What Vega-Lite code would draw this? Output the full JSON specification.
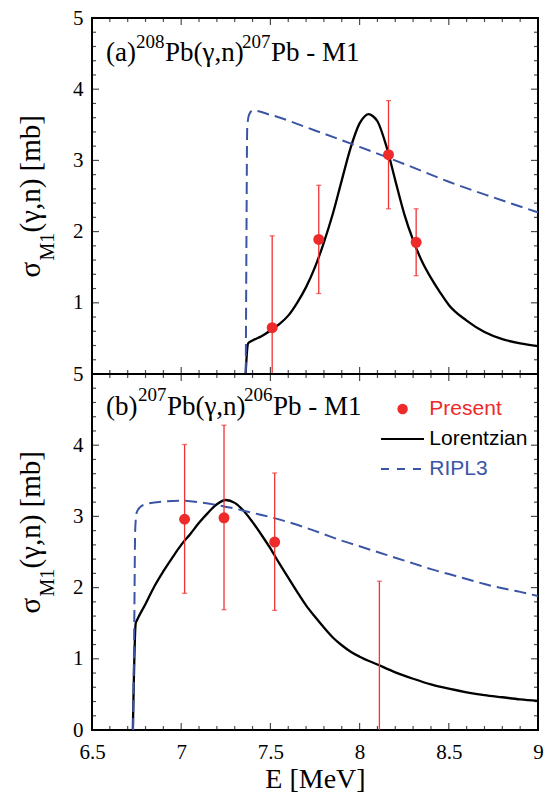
{
  "$schema": "https://vega.github.io/schema/vega-lite/v6.json",
  "background": "white",
  "padding": {"left": 16, "top": 6, "right": 0, "bottom": 0},
  "config": {"view": {"stroke": "black", "strokeWidth": 2}, "axis": {"grid": false}},
  "datasets": {
    "lorA": [
      {"E": 7.361, "sigma": 0, "series": "Lorentzian"}, {"E": 7.375, "sigma": 0.43, "series": "Lorentzian"},
      {"E": 7.40, "sigma": 0.47, "series": "Lorentzian"}, {"E": 7.45, "sigma": 0.53, "series": "Lorentzian"},
      {"E": 7.50, "sigma": 0.61, "series": "Lorentzian"}, {"E": 7.55, "sigma": 0.70, "series": "Lorentzian"},
      {"E": 7.60, "sigma": 0.82, "series": "Lorentzian"}, {"E": 7.65, "sigma": 1.00, "series": "Lorentzian"},
      {"E": 7.70, "sigma": 1.22, "series": "Lorentzian"}, {"E": 7.75, "sigma": 1.50, "series": "Lorentzian"},
      {"E": 7.80, "sigma": 1.85, "series": "Lorentzian"}, {"E": 7.85, "sigma": 2.25, "series": "Lorentzian"},
      {"E": 7.90, "sigma": 2.72, "series": "Lorentzian"}, {"E": 7.95, "sigma": 3.18, "series": "Lorentzian"},
      {"E": 8.00, "sigma": 3.52, "series": "Lorentzian"}, {"E": 8.025, "sigma": 3.61, "series": "Lorentzian"},
      {"E": 8.05, "sigma": 3.65, "series": "Lorentzian"}, {"E": 8.075, "sigma": 3.62, "series": "Lorentzian"},
      {"E": 8.10, "sigma": 3.55, "series": "Lorentzian"}, {"E": 8.15, "sigma": 3.20, "series": "Lorentzian"},
      {"E": 8.20, "sigma": 2.72, "series": "Lorentzian"}, {"E": 8.25, "sigma": 2.25, "series": "Lorentzian"},
      {"E": 8.30, "sigma": 1.88, "series": "Lorentzian"}, {"E": 8.35, "sigma": 1.58, "series": "Lorentzian"},
      {"E": 8.40, "sigma": 1.35, "series": "Lorentzian"}, {"E": 8.45, "sigma": 1.15, "series": "Lorentzian"},
      {"E": 8.50, "sigma": 0.97, "series": "Lorentzian"}, {"E": 8.60, "sigma": 0.75, "series": "Lorentzian"},
      {"E": 8.70, "sigma": 0.59, "series": "Lorentzian"}, {"E": 8.80, "sigma": 0.49, "series": "Lorentzian"},
      {"E": 8.90, "sigma": 0.43, "series": "Lorentzian"}, {"E": 9.00, "sigma": 0.39, "series": "Lorentzian"}
    ],
    "ripA": [
      {"E": 7.362, "sigma": 0, "series": "RIPL3"}, {"E": 7.366, "sigma": 2.0, "series": "RIPL3"},
      {"E": 7.370, "sigma": 3.45, "series": "RIPL3"}, {"E": 7.38, "sigma": 3.64, "series": "RIPL3"},
      {"E": 7.40, "sigma": 3.70, "series": "RIPL3"}, {"E": 7.50, "sigma": 3.64, "series": "RIPL3"},
      {"E": 7.75, "sigma": 3.42, "series": "RIPL3"}, {"E": 8.00, "sigma": 3.19, "series": "RIPL3"},
      {"E": 8.25, "sigma": 2.95, "series": "RIPL3"}, {"E": 8.50, "sigma": 2.70, "series": "RIPL3"},
      {"E": 8.75, "sigma": 2.48, "series": "RIPL3"}, {"E": 9.00, "sigma": 2.27, "series": "RIPL3"}
    ],
    "expA": [
      {"E": 7.51, "sigma": 0.65, "lo": -0.64, "hi": 1.94, "series": "Present"},
      {"E": 7.771, "sigma": 1.89, "lo": 1.13, "hi": 2.65, "series": "Present"},
      {"E": 8.162, "sigma": 3.08, "lo": 2.32, "hi": 3.84, "series": "Present"},
      {"E": 8.317, "sigma": 1.85, "lo": 1.38, "hi": 2.32, "series": "Present"}
    ],
    "lorB": [
      {"E": 6.729, "sigma": 0, "series": "Lorentzian"}, {"E": 6.745, "sigma": 1.50, "series": "Lorentzian"},
      {"E": 6.75, "sigma": 1.53, "series": "Lorentzian"}, {"E": 6.80, "sigma": 1.77, "series": "Lorentzian"},
      {"E": 6.85, "sigma": 2.02, "series": "Lorentzian"}, {"E": 6.90, "sigma": 2.23, "series": "Lorentzian"},
      {"E": 6.95, "sigma": 2.42, "series": "Lorentzian"}, {"E": 7.00, "sigma": 2.60, "series": "Lorentzian"},
      {"E": 7.05, "sigma": 2.75, "series": "Lorentzian"}, {"E": 7.10, "sigma": 2.91, "series": "Lorentzian"},
      {"E": 7.15, "sigma": 3.05, "series": "Lorentzian"}, {"E": 7.20, "sigma": 3.17, "series": "Lorentzian"},
      {"E": 7.25, "sigma": 3.23, "series": "Lorentzian"}, {"E": 7.30, "sigma": 3.19, "series": "Lorentzian"},
      {"E": 7.35, "sigma": 3.08, "series": "Lorentzian"}, {"E": 7.40, "sigma": 2.92, "series": "Lorentzian"},
      {"E": 7.45, "sigma": 2.74, "series": "Lorentzian"}, {"E": 7.50, "sigma": 2.55, "series": "Lorentzian"},
      {"E": 7.55, "sigma": 2.34, "series": "Lorentzian"}, {"E": 7.60, "sigma": 2.14, "series": "Lorentzian"},
      {"E": 7.65, "sigma": 1.94, "series": "Lorentzian"}, {"E": 7.70, "sigma": 1.75, "series": "Lorentzian"},
      {"E": 7.75, "sigma": 1.59, "series": "Lorentzian"}, {"E": 7.80, "sigma": 1.44, "series": "Lorentzian"},
      {"E": 7.85, "sigma": 1.30, "series": "Lorentzian"}, {"E": 7.90, "sigma": 1.19, "series": "Lorentzian"},
      {"E": 7.95, "sigma": 1.10, "series": "Lorentzian"}, {"E": 8.00, "sigma": 1.03, "series": "Lorentzian"},
      {"E": 8.10, "sigma": 0.92, "series": "Lorentzian"}, {"E": 8.20, "sigma": 0.81, "series": "Lorentzian"},
      {"E": 8.30, "sigma": 0.72, "series": "Lorentzian"}, {"E": 8.40, "sigma": 0.64, "series": "Lorentzian"},
      {"E": 8.50, "sigma": 0.58, "series": "Lorentzian"}, {"E": 8.60, "sigma": 0.53, "series": "Lorentzian"},
      {"E": 8.70, "sigma": 0.49, "series": "Lorentzian"}, {"E": 8.80, "sigma": 0.46, "series": "Lorentzian"},
      {"E": 8.90, "sigma": 0.43, "series": "Lorentzian"}, {"E": 9.00, "sigma": 0.41, "series": "Lorentzian"}
    ],
    "ripB": [
      {"E": 6.730, "sigma": 0, "series": "RIPL3"}, {"E": 6.737, "sigma": 1.5, "series": "RIPL3"},
      {"E": 6.742, "sigma": 2.8, "series": "RIPL3"}, {"E": 6.75, "sigma": 3.05, "series": "RIPL3"},
      {"E": 6.77, "sigma": 3.13, "series": "RIPL3"}, {"E": 6.80, "sigma": 3.17, "series": "RIPL3"},
      {"E": 6.90, "sigma": 3.21, "series": "RIPL3"}, {"E": 7.00, "sigma": 3.22, "series": "RIPL3"},
      {"E": 7.10, "sigma": 3.20, "series": "RIPL3"}, {"E": 7.20, "sigma": 3.16, "series": "RIPL3"},
      {"E": 7.30, "sigma": 3.11, "series": "RIPL3"}, {"E": 7.40, "sigma": 3.05, "series": "RIPL3"},
      {"E": 7.50, "sigma": 2.99, "series": "RIPL3"}, {"E": 7.60, "sigma": 2.92, "series": "RIPL3"},
      {"E": 7.70, "sigma": 2.84, "series": "RIPL3"}, {"E": 7.80, "sigma": 2.75, "series": "RIPL3"},
      {"E": 7.90, "sigma": 2.66, "series": "RIPL3"}, {"E": 8.00, "sigma": 2.58, "series": "RIPL3"},
      {"E": 8.10, "sigma": 2.50, "series": "RIPL3"}, {"E": 8.20, "sigma": 2.42, "series": "RIPL3"},
      {"E": 8.30, "sigma": 2.34, "series": "RIPL3"}, {"E": 8.40, "sigma": 2.26, "series": "RIPL3"},
      {"E": 8.50, "sigma": 2.19, "series": "RIPL3"}, {"E": 8.60, "sigma": 2.12, "series": "RIPL3"},
      {"E": 8.70, "sigma": 2.05, "series": "RIPL3"}, {"E": 8.80, "sigma": 1.99, "series": "RIPL3"},
      {"E": 8.90, "sigma": 1.94, "series": "RIPL3"}, {"E": 9.00, "sigma": 1.88, "series": "RIPL3"}
    ],
    "expB": [
      {"E": 7.019, "sigma": 2.96, "lo": 1.92, "hi": 4.01, "series": "Present"},
      {"E": 7.24, "sigma": 2.98, "lo": 1.69, "hi": 4.28, "series": "Present"},
      {"E": 7.524, "sigma": 2.64, "lo": 1.68, "hi": 3.61, "series": "Present"},
      {"E": 8.111, "sigma": -0.5, "lo": -3.09, "hi": 2.09, "series": "Present"}
    ],
    "xmaj": [{"t": 6.5}, {"t": 7}, {"t": 7.5}, {"t": 8}, {"t": 8.5}, {"t": 9}],
    "xmin": [{"t": 6.6}, {"t": 6.7}, {"t": 6.8}, {"t": 6.9}, {"t": 7.1}, {"t": 7.2}, {"t": 7.3}, {"t": 7.4}, {"t": 7.6}, {"t": 7.7}, {"t": 7.8}, {"t": 7.9}, {"t": 8.1}, {"t": 8.2}, {"t": 8.3}, {"t": 8.4}, {"t": 8.6}, {"t": 8.7}, {"t": 8.8}, {"t": 8.9}],
    "ymaj": [{"t": 0}, {"t": 1}, {"t": 2}, {"t": 3}, {"t": 4}, {"t": 5}],
    "ymin": [{"t": 0.2}, {"t": 0.4}, {"t": 0.6}, {"t": 0.8}, {"t": 1.2}, {"t": 1.4}, {"t": 1.6}, {"t": 1.8}, {"t": 2.2}, {"t": 2.4}, {"t": 2.6}, {"t": 2.8}, {"t": 3.2}, {"t": 3.4}, {"t": 3.6}, {"t": 3.8}, {"t": 4.2}, {"t": 4.4}, {"t": 4.6}, {"t": 4.8}],
    "one": [{}]
  },
  "spacing": 0,
  "bounds": "flush",
  "resolve": {"scale": {"color": "independent"}},
  "vconcat": [
    {
      "width": 446, "height": 356,
      "layer": [
        {
          "data": {"name": "lorA"},
          "mark": {"type": "line", "strokeWidth": 2.3, "interpolate": "monotone", "clip": true},
          "encoding": {
            "x": {"field": "E", "type": "quantitative", "scale": {"domain": [6.5, 9], "nice": false, "zero": false}, "axis": null},
            "y": {"field": "sigma", "type": "quantitative", "scale": {"domain": [0, 5], "nice": false, "zero": false},
                  "axis": {"orient": "left", "values": [1, 2, 3, 4, 5], "format": "~g", "ticks": false, "domain": false, "grid": false, "labelFont": "Liberation Serif", "labelFontSize": 21, "labelColor": "black", "labelPadding": 9, "labelOverlap": false, "labelFlush": false, "title": null}},
            "color": {"field": "series", "type": "nominal", "scale": {"domain": ["Present", "Lorentzian", "RIPL3"], "range": ["#ee2a2a", "#000000", "#3b55a6"]}, "legend": null}
          }
        },
        {
          "data": {"name": "ripA"},
          "mark": {"type": "line", "strokeWidth": 2, "strokeDash": [12, 6], "interpolate": "monotone", "clip": true},
          "encoding": {
            "x": {"field": "E", "type": "quantitative", "scale": {"domain": [6.5, 9], "nice": false, "zero": false}, "axis": null},
            "y": {"field": "sigma", "type": "quantitative", "scale": {"domain": [0, 5], "nice": false, "zero": false}},
            "color": {"field": "series", "type": "nominal", "scale": {"domain": ["Present", "Lorentzian", "RIPL3"], "range": ["#ee2a2a", "#000000", "#3b55a6"]}, "legend": null}
          }
        },
        {"data": {"name": "xmaj"}, "mark": {"type": "tick", "orient": "vertical", "size": 14, "thickness": 1.2, "color": "black", "clip": true},
         "encoding": {"x": {"field": "t", "type": "quantitative", "scale": {"domain": [6.5, 9], "nice": false, "zero": false}, "axis": null}, "y": {"datum": 0, "type": "quantitative", "scale": {"domain": [0, 5], "nice": false, "zero": false}}}},
        {"data": {"name": "xmaj"}, "mark": {"type": "tick", "orient": "vertical", "size": 14, "thickness": 1.2, "color": "black", "clip": true},
         "encoding": {"x": {"field": "t", "type": "quantitative", "scale": {"domain": [6.5, 9], "nice": false, "zero": false}, "axis": null}, "y": {"datum": 5, "type": "quantitative", "scale": {"domain": [0, 5], "nice": false, "zero": false}}}},
        {"data": {"name": "xmin"}, "mark": {"type": "tick", "orient": "vertical", "size": 8, "thickness": 1.2, "color": "black", "clip": true},
         "encoding": {"x": {"field": "t", "type": "quantitative", "scale": {"domain": [6.5, 9], "nice": false, "zero": false}, "axis": null}, "y": {"datum": 0, "type": "quantitative", "scale": {"domain": [0, 5], "nice": false, "zero": false}}}},
        {"data": {"name": "xmin"}, "mark": {"type": "tick", "orient": "vertical", "size": 8, "thickness": 1.2, "color": "black", "clip": true},
         "encoding": {"x": {"field": "t", "type": "quantitative", "scale": {"domain": [6.5, 9], "nice": false, "zero": false}, "axis": null}, "y": {"datum": 5, "type": "quantitative", "scale": {"domain": [0, 5], "nice": false, "zero": false}}}},
        {"data": {"name": "ymaj"}, "mark": {"type": "tick", "orient": "horizontal", "size": 14, "thickness": 1.2, "color": "black", "clip": true},
         "encoding": {"y": {"field": "t", "type": "quantitative", "scale": {"domain": [0, 5], "nice": false, "zero": false}}, "x": {"datum": 6.5, "type": "quantitative", "scale": {"domain": [6.5, 9], "nice": false, "zero": false}, "axis": null}}},
        {"data": {"name": "ymaj"}, "mark": {"type": "tick", "orient": "horizontal", "size": 14, "thickness": 1.2, "color": "black", "clip": true},
         "encoding": {"y": {"field": "t", "type": "quantitative", "scale": {"domain": [0, 5], "nice": false, "zero": false}}, "x": {"datum": 9, "type": "quantitative", "scale": {"domain": [6.5, 9], "nice": false, "zero": false}, "axis": null}}},
        {"data": {"name": "ymin"}, "mark": {"type": "tick", "orient": "horizontal", "size": 8, "thickness": 1.2, "color": "black", "clip": true},
         "encoding": {"y": {"field": "t", "type": "quantitative", "scale": {"domain": [0, 5], "nice": false, "zero": false}}, "x": {"datum": 6.5, "type": "quantitative", "scale": {"domain": [6.5, 9], "nice": false, "zero": false}, "axis": null}}},
        {"data": {"name": "ymin"}, "mark": {"type": "tick", "orient": "horizontal", "size": 8, "thickness": 1.2, "color": "black", "clip": true},
         "encoding": {"y": {"field": "t", "type": "quantitative", "scale": {"domain": [0, 5], "nice": false, "zero": false}}, "x": {"datum": 9, "type": "quantitative", "scale": {"domain": [6.5, 9], "nice": false, "zero": false}, "axis": null}}},
        {
          "data": {"name": "expA"},
          "mark": {"type": "rule", "color": "#ee3333", "strokeWidth": 1.3, "clip": true},
          "encoding": {
            "x": {"field": "E", "type": "quantitative", "scale": {"domain": [6.5, 9], "nice": false, "zero": false}, "axis": null},
            "y": {"field": "lo", "type": "quantitative", "scale": {"domain": [0, 5], "nice": false, "zero": false}},
            "y2": {"field": "hi"}
          }
        },
        {
          "data": {"name": "expA"},
          "mark": {"type": "tick", "orient": "horizontal", "size": 5, "thickness": 1.3, "color": "#ee3333", "clip": true},
          "encoding": {
            "x": {"field": "E", "type": "quantitative", "scale": {"domain": [6.5, 9], "nice": false, "zero": false}, "axis": null},
            "y": {"field": "hi", "type": "quantitative", "scale": {"domain": [0, 5], "nice": false, "zero": false}}
          }
        },
        {
          "data": {"name": "expA"},
          "mark": {"type": "tick", "orient": "horizontal", "size": 5, "thickness": 1.3, "color": "#ee3333", "clip": true},
          "encoding": {
            "x": {"field": "E", "type": "quantitative", "scale": {"domain": [6.5, 9], "nice": false, "zero": false}, "axis": null},
            "y": {"field": "lo", "type": "quantitative", "scale": {"domain": [0, 5], "nice": false, "zero": false}}
          }
        },
        {
          "data": {"name": "expA"},
          "mark": {"type": "circle", "size": 120, "opacity": 1, "clip": true},
          "encoding": {
            "x": {"field": "E", "type": "quantitative", "scale": {"domain": [6.5, 9], "nice": false, "zero": false}, "axis": null},
            "y": {"field": "sigma", "type": "quantitative", "scale": {"domain": [0, 5], "nice": false, "zero": false}},
            "color": {"field": "series", "type": "nominal", "scale": {"domain": ["Present", "Lorentzian", "RIPL3"], "range": ["#ee2a2a", "#000000", "#3b55a6"]}, "legend": null}
          }
        },
        {"data": {"name": "one"}, "mark": {"type": "text", "text": "(a)", "font": "Liberation Serif", "fontSize": 27, "align": "left", "baseline": "alphabetic", "color": "black"},
         "encoding": {"x": {"datum": 6.578, "type": "quantitative", "scale": {"domain": [6.5, 9], "nice": false, "zero": false}, "axis": null}, "y": {"datum": 4.40, "type": "quantitative", "scale": {"domain": [0, 5], "nice": false, "zero": false}}}},
        {"data": {"name": "one"}, "mark": {"type": "text", "text": "208", "font": "Liberation Serif", "fontSize": 19, "align": "left", "baseline": "alphabetic", "color": "black"},
         "encoding": {"x": {"datum": 6.747, "type": "quantitative", "scale": {"domain": [6.5, 9], "nice": false, "zero": false}, "axis": null}, "y": {"datum": 4.58, "type": "quantitative", "scale": {"domain": [0, 5], "nice": false, "zero": false}}}},
        {"data": {"name": "one"}, "mark": {"type": "text", "text": "Pb(γ,n)", "font": "Liberation Serif", "fontSize": 27, "align": "left", "baseline": "alphabetic", "color": "black"},
         "encoding": {"x": {"datum": 6.909, "type": "quantitative", "scale": {"domain": [6.5, 9], "nice": false, "zero": false}, "axis": null}, "y": {"datum": 4.40, "type": "quantitative", "scale": {"domain": [0, 5], "nice": false, "zero": false}}}},
        {"data": {"name": "one"}, "mark": {"type": "text", "text": "207", "font": "Liberation Serif", "fontSize": 19, "align": "left", "baseline": "alphabetic", "color": "black"},
         "encoding": {"x": {"datum": 7.341, "type": "quantitative", "scale": {"domain": [6.5, 9], "nice": false, "zero": false}, "axis": null}, "y": {"datum": 4.58, "type": "quantitative", "scale": {"domain": [0, 5], "nice": false, "zero": false}}}},
        {"data": {"name": "one"}, "mark": {"type": "text", "text": "Pb - M1", "font": "Liberation Serif", "fontSize": 27, "align": "left", "baseline": "alphabetic", "color": "black"},
         "encoding": {"x": {"datum": 7.503, "type": "quantitative", "scale": {"domain": [6.5, 9], "nice": false, "zero": false}, "axis": null}, "y": {"datum": 4.40, "type": "quantitative", "scale": {"domain": [0, 5], "nice": false, "zero": false}}}},
        {"data": {"name": "one"}, "mark": {"type": "text", "text": "σ", "font": "Liberation Serif", "fontSize": 29, "angle": 270, "align": "left", "baseline": "alphabetic", "color": "black"},
         "encoding": {"x": {"datum": 6.209, "type": "quantitative", "scale": {"domain": [6.5, 9], "nice": false, "zero": false}, "axis": null}, "y": {"datum": 1.354, "type": "quantitative", "scale": {"domain": [0, 5], "nice": false, "zero": false}}}},
        {"data": {"name": "one"}, "mark": {"type": "text", "text": "M1", "font": "Liberation Serif", "fontSize": 20, "angle": 270, "align": "left", "baseline": "alphabetic", "color": "black"},
         "encoding": {"x": {"datum": 6.287, "type": "quantitative", "scale": {"domain": [6.5, 9], "nice": false, "zero": false}, "axis": null}, "y": {"datum": 1.593, "type": "quantitative", "scale": {"domain": [0, 5], "nice": false, "zero": false}}}},
        {"data": {"name": "one"}, "mark": {"type": "text", "text": "(γ,n) [mb]", "font": "Liberation Serif", "fontSize": 29, "angle": 270, "align": "left", "baseline": "alphabetic", "color": "black"},
         "encoding": {"x": {"datum": 6.209, "type": "quantitative", "scale": {"domain": [6.5, 9], "nice": false, "zero": false}, "axis": null}, "y": {"datum": 1.986, "type": "quantitative", "scale": {"domain": [0, 5], "nice": false, "zero": false}}}}
      ]
    },
    {
      "width": 446, "height": 356,
      "layer": [
        {
          "data": {"name": "lorB"},
          "mark": {"type": "line", "strokeWidth": 2.3, "interpolate": "monotone", "clip": true},
          "encoding": {
            "x": {"field": "E", "type": "quantitative", "scale": {"domain": [6.5, 9], "nice": false, "zero": false},
                  "axis": {"orient": "bottom", "values": [6.5, 7, 7.5, 8, 8.5, 9], "format": "~g", "ticks": false, "domain": false, "grid": false, "labelFont": "Liberation Serif", "labelFontSize": 21, "labelColor": "black", "labelPadding": 11, "labelFlush": false, "labelOverlap": false, "title": "E [MeV]", "titleFont": "Liberation Serif", "titleFontSize": 28, "titleFontWeight": "normal", "titleColor": "black", "titlePadding": 3}},
            "y": {"field": "sigma", "type": "quantitative", "scale": {"domain": [0, 5], "nice": false, "zero": false},
                  "axis": {"orient": "left", "values": [0, 1, 2, 3, 4, 5], "format": "~g", "ticks": false, "domain": false, "grid": false, "labelFont": "Liberation Serif", "labelFontSize": 21, "labelColor": "black", "labelPadding": 9, "labelOverlap": false, "labelFlush": false, "title": null}},
            "color": {"field": "series", "type": "nominal", "scale": {"domain": ["Present", "Lorentzian", "RIPL3"], "range": ["#ee2a2a", "#000000", "#3b55a6"]}, "legend": null}
          }
        },
        {
          "data": {"name": "ripB"},
          "mark": {"type": "line", "strokeWidth": 2, "strokeDash": [12, 6], "interpolate": "monotone", "clip": true},
          "encoding": {
            "x": {"field": "E", "type": "quantitative", "scale": {"domain": [6.5, 9], "nice": false, "zero": false}},
            "y": {"field": "sigma", "type": "quantitative", "scale": {"domain": [0, 5], "nice": false, "zero": false}},
            "color": {"field": "series", "type": "nominal", "scale": {"domain": ["Present", "Lorentzian", "RIPL3"], "range": ["#ee2a2a", "#000000", "#3b55a6"]}, "legend": null}
          }
        },
        {"data": {"name": "xmaj"}, "mark": {"type": "tick", "orient": "vertical", "size": 14, "thickness": 1.2, "color": "black", "clip": true},
         "encoding": {"x": {"field": "t", "type": "quantitative", "scale": {"domain": [6.5, 9], "nice": false, "zero": false}}, "y": {"datum": 0, "type": "quantitative", "scale": {"domain": [0, 5], "nice": false, "zero": false}}}},
        {"data": {"name": "xmaj"}, "mark": {"type": "tick", "orient": "vertical", "size": 14, "thickness": 1.2, "color": "black", "clip": true},
         "encoding": {"x": {"field": "t", "type": "quantitative", "scale": {"domain": [6.5, 9], "nice": false, "zero": false}}, "y": {"datum": 5, "type": "quantitative", "scale": {"domain": [0, 5], "nice": false, "zero": false}}}},
        {"data": {"name": "xmin"}, "mark": {"type": "tick", "orient": "vertical", "size": 8, "thickness": 1.2, "color": "black", "clip": true},
         "encoding": {"x": {"field": "t", "type": "quantitative", "scale": {"domain": [6.5, 9], "nice": false, "zero": false}}, "y": {"datum": 0, "type": "quantitative", "scale": {"domain": [0, 5], "nice": false, "zero": false}}}},
        {"data": {"name": "xmin"}, "mark": {"type": "tick", "orient": "vertical", "size": 8, "thickness": 1.2, "color": "black", "clip": true},
         "encoding": {"x": {"field": "t", "type": "quantitative", "scale": {"domain": [6.5, 9], "nice": false, "zero": false}}, "y": {"datum": 5, "type": "quantitative", "scale": {"domain": [0, 5], "nice": false, "zero": false}}}},
        {"data": {"name": "ymaj"}, "mark": {"type": "tick", "orient": "horizontal", "size": 14, "thickness": 1.2, "color": "black", "clip": true},
         "encoding": {"y": {"field": "t", "type": "quantitative", "scale": {"domain": [0, 5], "nice": false, "zero": false}}, "x": {"datum": 6.5, "type": "quantitative", "scale": {"domain": [6.5, 9], "nice": false, "zero": false}}}},
        {"data": {"name": "ymaj"}, "mark": {"type": "tick", "orient": "horizontal", "size": 14, "thickness": 1.2, "color": "black", "clip": true},
         "encoding": {"y": {"field": "t", "type": "quantitative", "scale": {"domain": [0, 5], "nice": false, "zero": false}}, "x": {"datum": 9, "type": "quantitative", "scale": {"domain": [6.5, 9], "nice": false, "zero": false}}}},
        {"data": {"name": "ymin"}, "mark": {"type": "tick", "orient": "horizontal", "size": 8, "thickness": 1.2, "color": "black", "clip": true},
         "encoding": {"y": {"field": "t", "type": "quantitative", "scale": {"domain": [0, 5], "nice": false, "zero": false}}, "x": {"datum": 6.5, "type": "quantitative", "scale": {"domain": [6.5, 9], "nice": false, "zero": false}}}},
        {"data": {"name": "ymin"}, "mark": {"type": "tick", "orient": "horizontal", "size": 8, "thickness": 1.2, "color": "black", "clip": true},
         "encoding": {"y": {"field": "t", "type": "quantitative", "scale": {"domain": [0, 5], "nice": false, "zero": false}}, "x": {"datum": 9, "type": "quantitative", "scale": {"domain": [6.5, 9], "nice": false, "zero": false}}}},
        {
          "data": {"name": "expB"},
          "mark": {"type": "rule", "color": "#ee3333", "strokeWidth": 1.3, "clip": true},
          "encoding": {
            "x": {"field": "E", "type": "quantitative", "scale": {"domain": [6.5, 9], "nice": false, "zero": false}},
            "y": {"field": "lo", "type": "quantitative", "scale": {"domain": [0, 5], "nice": false, "zero": false}},
            "y2": {"field": "hi"}
          }
        },
        {
          "data": {"name": "expB"},
          "mark": {"type": "tick", "orient": "horizontal", "size": 5, "thickness": 1.3, "color": "#ee3333", "clip": true},
          "encoding": {
            "x": {"field": "E", "type": "quantitative", "scale": {"domain": [6.5, 9], "nice": false, "zero": false}},
            "y": {"field": "hi", "type": "quantitative", "scale": {"domain": [0, 5], "nice": false, "zero": false}}
          }
        },
        {
          "data": {"name": "expB"},
          "mark": {"type": "tick", "orient": "horizontal", "size": 5, "thickness": 1.3, "color": "#ee3333", "clip": true},
          "encoding": {
            "x": {"field": "E", "type": "quantitative", "scale": {"domain": [6.5, 9], "nice": false, "zero": false}},
            "y": {"field": "lo", "type": "quantitative", "scale": {"domain": [0, 5], "nice": false, "zero": false}}
          }
        },
        {
          "data": {"name": "expB"},
          "mark": {"type": "circle", "size": 120, "opacity": 1, "clip": true},
          "encoding": {
            "x": {"field": "E", "type": "quantitative", "scale": {"domain": [6.5, 9], "nice": false, "zero": false}},
            "y": {"field": "sigma", "type": "quantitative", "scale": {"domain": [0, 5], "nice": false, "zero": false}},
            "color": {"field": "series", "type": "nominal", "scale": {"domain": ["Present", "Lorentzian", "RIPL3"], "range": ["#ee2a2a", "#000000", "#3b55a6"]}, "legend": null}
          }
        },
        {"data": {"name": "one"}, "mark": {"type": "circle", "size": 110, "opacity": 1, "color": "#ee2a2a"},
         "encoding": {"x": {"datum": 8.241, "type": "quantitative", "scale": {"domain": [6.5, 9], "nice": false, "zero": false}}, "y": {"datum": 4.508, "type": "quantitative", "scale": {"domain": [0, 5], "nice": false, "zero": false}}}},
        {"data": {"name": "one"}, "mark": {"type": "rule", "color": "#000000", "strokeWidth": 2},
         "encoding": {"x": {"datum": 8.120, "type": "quantitative", "scale": {"domain": [6.5, 9], "nice": false, "zero": false}}, "x2": {"datum": 8.361}, "y": {"datum": 4.086, "type": "quantitative", "scale": {"domain": [0, 5], "nice": false, "zero": false}}}},
        {"data": {"name": "one"}, "mark": {"type": "rule", "color": "#3b55a6", "strokeWidth": 2, "strokeDash": [8, 8]},
         "encoding": {"x": {"datum": 8.120, "type": "quantitative", "scale": {"domain": [6.5, 9], "nice": false, "zero": false}}, "x2": {"datum": 8.361}, "y": {"datum": 3.665, "type": "quantitative", "scale": {"domain": [0, 5], "nice": false, "zero": false}}}},
        {"data": {"name": "one"}, "mark": {"type": "text", "text": "Present", "font": "Liberation Sans", "fontSize": 21, "align": "left", "baseline": "middle", "color": "#ee2a2a"},
         "encoding": {"x": {"datum": 8.391, "type": "quantitative", "scale": {"domain": [6.5, 9], "nice": false, "zero": false}}, "y": {"datum": 4.508, "type": "quantitative", "scale": {"domain": [0, 5], "nice": false, "zero": false}}}},
        {"data": {"name": "one"}, "mark": {"type": "text", "text": "Lorentzian", "font": "Liberation Sans", "fontSize": 21, "align": "left", "baseline": "middle", "color": "#000000"},
         "encoding": {"x": {"datum": 8.391, "type": "quantitative", "scale": {"domain": [6.5, 9], "nice": false, "zero": false}}, "y": {"datum": 4.086, "type": "quantitative", "scale": {"domain": [0, 5], "nice": false, "zero": false}}}},
        {"data": {"name": "one"}, "mark": {"type": "text", "text": "RIPL3", "font": "Liberation Sans", "fontSize": 21, "align": "left", "baseline": "middle", "color": "#3b55a6"},
         "encoding": {"x": {"datum": 8.391, "type": "quantitative", "scale": {"domain": [6.5, 9], "nice": false, "zero": false}}, "y": {"datum": 3.665, "type": "quantitative", "scale": {"domain": [0, 5], "nice": false, "zero": false}}}},
        {"data": {"name": "one"}, "mark": {"type": "text", "text": "(b)", "font": "Liberation Serif", "fontSize": 27, "align": "left", "baseline": "alphabetic", "color": "black"},
         "encoding": {"x": {"datum": 6.578, "type": "quantitative", "scale": {"domain": [6.5, 9], "nice": false, "zero": false}}, "y": {"datum": 4.42, "type": "quantitative", "scale": {"domain": [0, 5], "nice": false, "zero": false}}}},
        {"data": {"name": "one"}, "mark": {"type": "text", "text": "207", "font": "Liberation Serif", "fontSize": 19, "align": "left", "baseline": "alphabetic", "color": "black"},
         "encoding": {"x": {"datum": 6.758, "type": "quantitative", "scale": {"domain": [6.5, 9], "nice": false, "zero": false}}, "y": {"datum": 4.62, "type": "quantitative", "scale": {"domain": [0, 5], "nice": false, "zero": false}}}},
        {"data": {"name": "one"}, "mark": {"type": "text", "text": "Pb(γ,n)", "font": "Liberation Serif", "fontSize": 27, "align": "left", "baseline": "alphabetic", "color": "black"},
         "encoding": {"x": {"datum": 6.920, "type": "quantitative", "scale": {"domain": [6.5, 9], "nice": false, "zero": false}}, "y": {"datum": 4.42, "type": "quantitative", "scale": {"domain": [0, 5], "nice": false, "zero": false}}}},
        {"data": {"name": "one"}, "mark": {"type": "text", "text": "206", "font": "Liberation Serif", "fontSize": 19, "align": "left", "baseline": "alphabetic", "color": "black"},
         "encoding": {"x": {"datum": 7.352, "type": "quantitative", "scale": {"domain": [6.5, 9], "nice": false, "zero": false}}, "y": {"datum": 4.62, "type": "quantitative", "scale": {"domain": [0, 5], "nice": false, "zero": false}}}},
        {"data": {"name": "one"}, "mark": {"type": "text", "text": "Pb - M1", "font": "Liberation Serif", "fontSize": 27, "align": "left", "baseline": "alphabetic", "color": "black"},
         "encoding": {"x": {"datum": 7.515, "type": "quantitative", "scale": {"domain": [6.5, 9], "nice": false, "zero": false}}, "y": {"datum": 4.42, "type": "quantitative", "scale": {"domain": [0, 5], "nice": false, "zero": false}}}},
        {"data": {"name": "one"}, "mark": {"type": "text", "text": "σ", "font": "Liberation Serif", "fontSize": 29, "angle": 270, "align": "left", "baseline": "alphabetic", "color": "black"},
         "encoding": {"x": {"datum": 6.209, "type": "quantitative", "scale": {"domain": [6.5, 9], "nice": false, "zero": false}}, "y": {"datum": 1.635, "type": "quantitative", "scale": {"domain": [0, 5], "nice": false, "zero": false}}}},
        {"data": {"name": "one"}, "mark": {"type": "text", "text": "M1", "font": "Liberation Serif", "fontSize": 20, "angle": 270, "align": "left", "baseline": "alphabetic", "color": "black"},
         "encoding": {"x": {"datum": 6.287, "type": "quantitative", "scale": {"domain": [6.5, 9], "nice": false, "zero": false}}, "y": {"datum": 1.874, "type": "quantitative", "scale": {"domain": [0, 5], "nice": false, "zero": false}}}},
        {"data": {"name": "one"}, "mark": {"type": "text", "text": "(γ,n) [mb]", "font": "Liberation Serif", "fontSize": 29, "angle": 270, "align": "left", "baseline": "alphabetic", "color": "black"},
         "encoding": {"x": {"datum": 6.209, "type": "quantitative", "scale": {"domain": [6.5, 9], "nice": false, "zero": false}}, "y": {"datum": 2.267, "type": "quantitative", "scale": {"domain": [0, 5], "nice": false, "zero": false}}}}
      ]
    }
  ]
}
